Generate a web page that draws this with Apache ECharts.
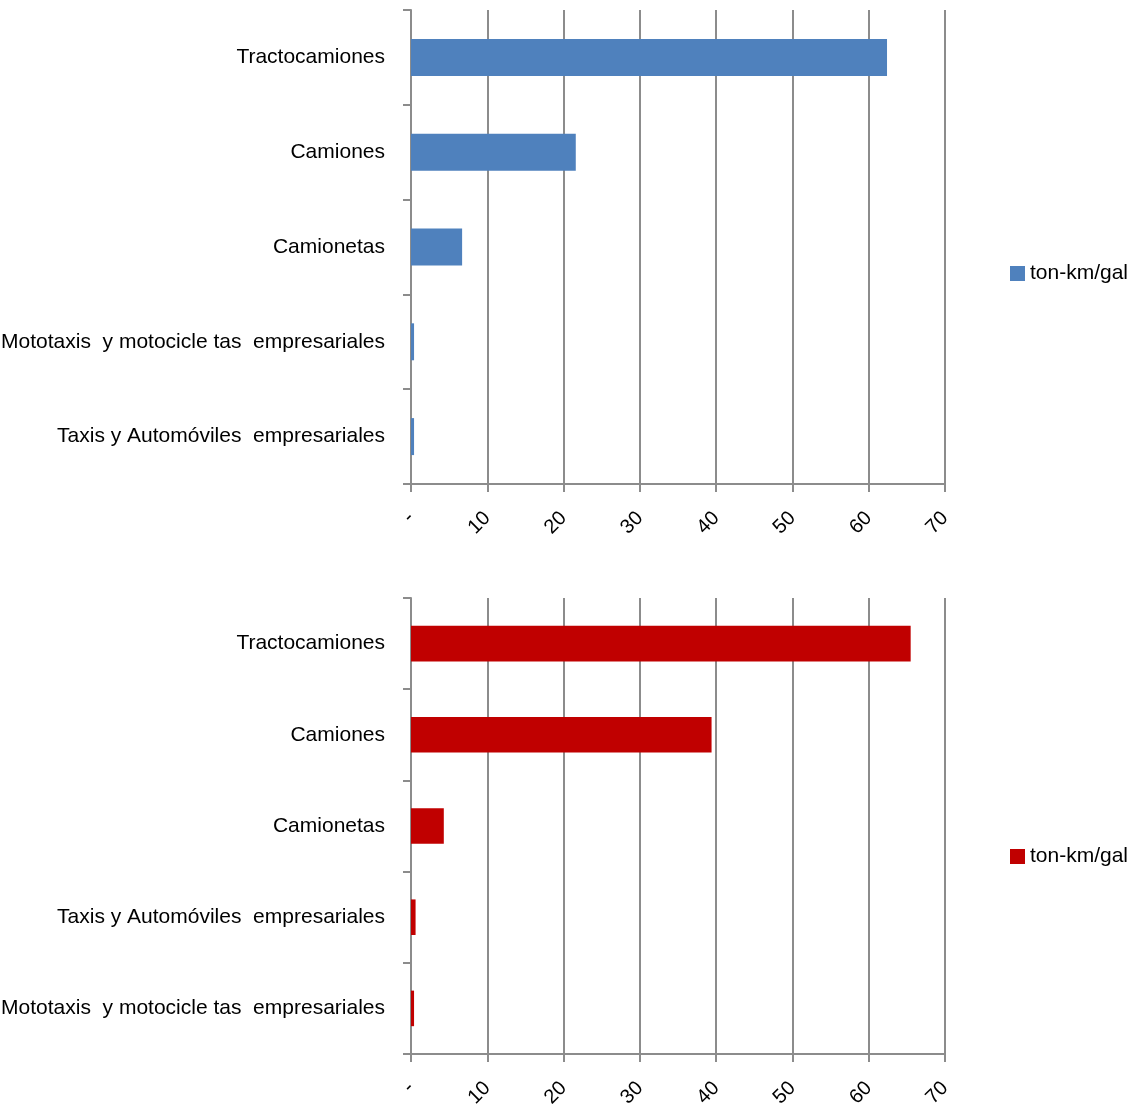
<!DOCTYPE html>
<html>
<head>
<meta charset="utf-8">
<script src="https://cdn.jsdelivr.net/npm/echarts@6/dist/echarts.min.js"></script>
<style>
  html, body { margin: 0; padding: 0; background: #fff; }
  #chart { width: 1133px; height: 1112px; }
</style>
</head>
<body>
<div id="chart"></div>
<script>
// Fuel efficiency by vehicle class (ton-km per gallon), two panels
const seriesName = 'ton-km/gal';

const categoriesTop = [
  'Tractocamiones',
  'Camiones',
  'Camionetas',
  'Mototaxis  y motocicle tas  empresariales',
  'Taxis y Automóviles  empresariales'
];
const valuesTop = [62.4, 21.6, 6.7, 0.4, 0.4];

const categoriesBottom = [
  'Tractocamiones',
  'Camiones',
  'Camionetas',
  'Taxis y Automóviles  empresariales',
  'Mototaxis  y motocicle tas  empresariales'
];
const valuesBottom = [65.5, 39.4, 4.3, 0.6, 0.4];

const xMin = 0, xMax = 70, xStep = 10;

const FONT = '"Liberation Sans Narrow", "Arial Narrow", "Liberation Sans", Arial, sans-serif';
const GRID_COLOR = '#8c8c8c';
const BLUE = '#4f81bd';
const RED = '#c00000';

function valueAxis(gridIndex) {
  return {
    type: 'value',
    gridIndex: gridIndex,
    min: xMin, max: xMax, interval: xStep,
    axisLine: { show: true, lineStyle: { color: GRID_COLOR, width: 2 } },
    axisTick: { show: true, length: 8, lineStyle: { color: GRID_COLOR, width: 2 } },
    splitLine: { show: true, lineStyle: { color: GRID_COLOR, width: 2 } },
    axisLabel: {
      rotate: 45,
      margin: 31,
      fontFamily: FONT,
      fontSize: 20,
      color: '#000',
      formatter: v => (v === 0 ? '-' : String(v))
    }
  };
}

function categoryAxis(gridIndex, cats) {
  return {
    type: 'category',
    gridIndex: gridIndex,
    data: cats,
    inverse: true,
    boundaryGap: true,
    axisLine: { show: true, lineStyle: { color: GRID_COLOR, width: 2 } },
    axisTick: { show: true, length: 8, alignWithLabel: false, lineStyle: { color: GRID_COLOR, width: 2 } },
    axisLabel: {
      margin: 26,
      fontFamily: FONT,
      fontSize: 21,
      color: '#000'
    }
  };
}

function legendFor(top, color) {
  return {
    left: 1010, top: top,
    padding: 0,
    itemWidth: 15, itemHeight: 15, itemGap: 5,
    selectedMode: false,
    textStyle: { fontFamily: FONT, fontSize: 21, color: '#000' },
    data: [{ name: seriesName, icon: 'rect', itemStyle: { color: color } }]
  };
}

const chart = echarts.init(document.getElementById('chart'), null, { renderer: 'canvas' });

chart.setOption({
  animation: false,
  backgroundColor: '#fff',
  grid: [
    { left: 411, right: 188, top: 10, height: 474, containLabel: false, outerBoundsMode: 'none' },
    { left: 411, right: 188, top: 598, height: 456, containLabel: false, outerBoundsMode: 'none' }
  ],
  xAxis: [valueAxis(0), valueAxis(1)],
  yAxis: [categoryAxis(0, categoriesTop), categoryAxis(1, categoriesBottom)],
  legend: [legendFor(263, BLUE), legendFor(846, RED)],
  series: [
    {
      name: seriesName,
      type: 'bar',
      xAxisIndex: 0, yAxisIndex: 0,
      data: valuesTop,
      barWidth: '39%',
      itemStyle: { color: BLUE }
    },
    {
      name: seriesName,
      type: 'bar',
      xAxisIndex: 1, yAxisIndex: 1,
      data: valuesBottom,
      barWidth: '39%',
      itemStyle: { color: RED }
    }
  ]
});
</script>
</body>
</html>
